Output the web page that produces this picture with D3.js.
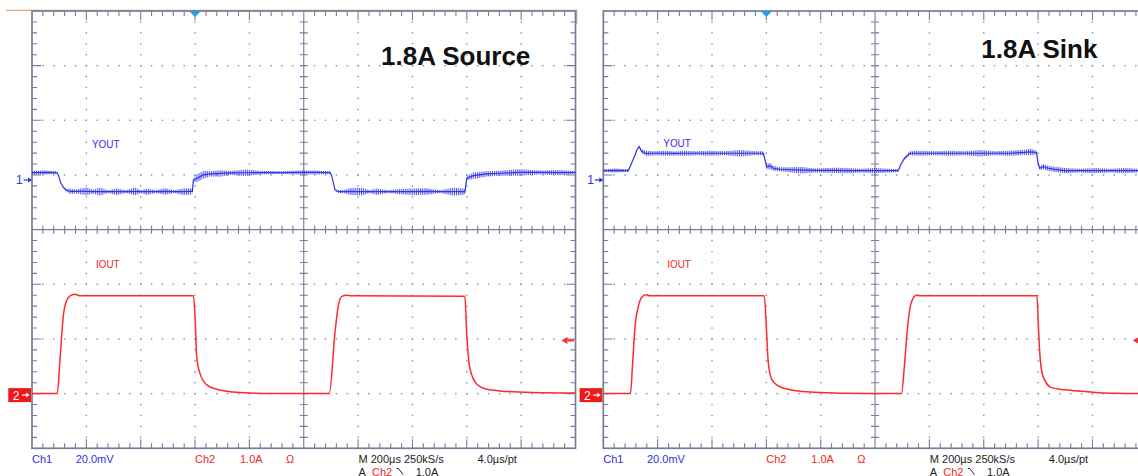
<!DOCTYPE html>
<html>
<head>
<meta charset="utf-8">
<script src="https://cdn.jsdelivr.net/npm/d3@7"></script>
<style>
  body { margin: 0; background: #fff; }
  svg { display: block; }
  text { font-family: "Liberation Sans", Arial, sans-serif; }
</style>
</head>
<body>
<script>
// scope settings (same on both screenshots)
const timeRange = [-600, 1400];   // µs, 200 µs/div, trigger 3 div from the left
const ch1PerDiv = 20;             // mV/div
const ch1Offset = 0.909;          // div above centre
const ch2PerDiv = 1.0;            // A/div
const ch2Offset = -3;             // div
const trigLevel = 1.0;            // A

// YOUT: [time µs, mV, ripple half-amplitude mV]
const srcYout = [
  [-600, 2.67, 0.55], [-552, 2.74, 0.55], [-509, 2.67, 0.37], [-503, 1.83, 0], [-494, -1.10, 0],
  [-485, -2.67, 0.18], [-475, -3.66, 0.37], [-460, -4.21, 0.73], [-438, -4.21, 0.55], [-399, -4.21, 1.10],
  [-376, -4.28, 0.55], [-350, -4.28, 1.10], [-320, -4.28, 0.37], [-288, -4.28, 0.91], [-254, -4.28, 0.37],
  [-221, -4.21, 1.10], [-199, -4.28, 0.37], [-177, -4.28, 0.91], [-144, -4.28, 0.37], [-111, -4.21, 0.91],
  [-77, -4.28, 0.37], [-44, -4.28, 0.91], [-19, -4.21, 0.91], [-10, -4.21, 0.73], [-6, 0.00, 0.37],
  [6, 0.55, 1.10], [30, 1.83, 1.10], [55, 2.20, 0.73], [92, 2.38, 0.91], [129, 2.56, 0.55],
  [184, 2.63, 0.91], [239, 2.67, 0.55], [312, 2.67, 0.37], [386, 2.74, 0.55], [441, 2.74, 0.55],
  [497, 2.67, 0.37], [503, 1.46, 0], [509, -1.10, 0], [515, -3.66, 0.18], [527, -4.28, 0.37],
  [552, -4.28, 0.55], [570, -4.21, 0.91], [613, -4.28, 1.10], [644, -4.28, 0.37], [668, -4.28, 0.91],
  [710, -4.28, 0.37], [754, -4.28, 0.73], [809, -4.28, 0.91], [852, -4.21, 0.91], [901, -4.28, 0.37],
  [950, -4.28, 1.10], [986, -4.28, 0.91], [993, -4.39, 0.73], [1000, 0.62, 0.55], [1024, 1.57, 0.91],
  [1073, 2.20, 0.73], [1122, 2.45, 0.73], [1196, 2.74, 0.91], [1269, 2.74, 0.55], [1343, 2.67, 0.73],
  [1400, 2.74, 0.37]
];
const sinkYout = [
  [-600, 3.40, 0.37], [-557, 3.48, 0.55], [-508, 3.40, 0.37], [-496, 6.11, 0], [-483, 9.15, 0.18],
  [-477, 10.98, 0.18], [-468, 12.18, 0.18], [-459, 10.50, 0.55], [-443, 9.70, 0.73], [-410, 9.77, 0.55],
  [-373, 9.77, 0.73], [-337, 9.70, 0.55], [-300, 9.77, 0.73], [-256, 9.77, 0.55], [-208, 9.77, 0.73],
  [-153, 9.77, 0.55], [-97, 9.77, 0.91], [-42, 9.77, 0.55], [-11, 9.77, 0.55], [-5, 7.32, 0.37],
  [1, 4.76, 0.73], [13, 5.12, 0.91], [26, 4.28, 0.73], [50, 3.92, 0.55], [87, 3.73, 0.73],
  [130, 3.59, 0.91], [179, 3.48, 0.55], [246, 3.48, 0.73], [302, 3.40, 0.73], [345, 3.40, 0.55],
  [400, 3.40, 0.73], [455, 3.40, 0.55], [485, 3.40, 0.37], [497, 6.11, 0.18], [509, 7.94, 0.37],
  [528, 9.77, 0.55], [565, 9.77, 0.73], [620, 9.77, 0.55], [675, 9.77, 0.73], [731, 9.77, 0.55],
  [786, 9.77, 0.91], [841, 9.77, 0.55], [896, 9.77, 0.73], [952, 10.06, 0.73], [970, 10.24, 0.91],
  [994, 10.06, 0.55], [1000, 6.11, 0.37], [1006, 4.28, 0.55], [1018, 4.87, 0.73], [1037, 4.28, 0.73],
  [1062, 3.84, 0.73], [1098, 3.40, 0.73], [1154, 3.40, 0.55], [1209, 3.40, 0.73], [1264, 3.40, 0.55],
  [1320, 3.40, 0.73], [1400, 3.40, 0.37]
];

// IOUT: [time µs, A]
const srcIout = [
  [-600, 0], [-507, 0], [-497, 0.62], [-485, 1.41], [-472, 1.71], [-460, 1.79], [-442, 1.82], [-423, 1.79],
  [-6, 1.79], [0, 1.41], [6, 0.68], [18, 0.37], [43, 0.16], [80, 0.08], [141, 0.03], [202, 0.01], [300, 0],
  [494, 0], [515, 1.12], [527, 1.60], [540, 1.78], [558, 1.80], [575, 1.79], [993, 1.78], [1000, 1.06],
  [1012, 0.45], [1037, 0.17], [1073, 0.08], [1122, 0.05], [1245, 0.02], [1400, 0.01]
];
const sinkIout = [
  [-600, 0], [-500, 0], [-492, 0.57], [-483, 1.24], [-471, 1.60], [-459, 1.76], [-443, 1.81], [-428, 1.79],
  [-8, 1.79], [1, 1.12], [7, 0.57], [20, 0.26], [44, 0.14], [87, 0.07], [136, 0.04], [197, 0.02], [357, 0],
  [497, 0], [509, 0.57], [519, 1.18], [533, 1.66], [552, 1.80], [570, 1.79], [996, 1.79], [1000, 1.36],
  [1006, 0.75], [1018, 0.32], [1049, 0.11], [1098, 0.07], [1171, 0.04], [1245, 0.01], [1400, 0]
];

const titles = ["1.8A Source", "1.8A Sink"];

const W = 1138, H = 476;
const DIV_X = 54.35, DIV_Y = 54.66, TOP = 11;
const GRID = "#767c9a", DOT = "#878ca6";
const BLUE = "#3535e8", RED = "#ff2a2a", TXT_BLUE = "#2f2fe6", TXT_RED = "#f02424";

const panels = [
  { x0: 32, title: titles[0], titleDx: 349, titleY: 65.3, yout: srcYout, iout: srcIout, orange: true, youtY: 147.7 },
  { x0: 603.3, title: titles[1], titleDx: 378, titleY: 58.3, yout: sinkYout, iout: sinkIout, orange: false, youtY: 146.7 }
];

const svg = d3.select("body").append("svg")
  .attr("width", W)
  .attr("height", H);

// vertical hatching used to render the ripple envelope
svg.append("defs").append("pattern")
  .attr("id", "ripple")
  .attr("patternUnits", "userSpaceOnUse")
  .attr("width", 1.9).attr("height", 20)
  .append("rect").attr("width", 1.0).attr("height", 20).attr("fill", BLUE);

panels.forEach((p, pi) => {
  const X0 = p.x0, X1 = X0 + 10 * DIV_X, Y1 = TOP + 8 * DIV_Y;
  const g = svg.append("g");

  const xDiv = d3.scaleLinear().domain([0, 10]).range([X0, X1]);
  const yDiv = d3.scaleLinear().domain([0, 8]).range([TOP, Y1]);
  const xT = d3.scaleLinear().domain(timeRange).range([X0, X1]);
  const yV = d3.scaleLinear()
    .domain([(-4 - ch1Offset) * ch1PerDiv, (4 - ch1Offset) * ch1PerDiv])
    .range([Y1, TOP]);
  const yI = d3.scaleLinear()
    .domain([(-4 - ch2Offset) * ch2PerDiv, (4 - ch2Offset) * ch2PerDiv])
    .range([Y1, TOP]);

  // orange bar above the first screen
  if (p.orange) {
    g.append("path")
      .attr("d", `M${X0 - 26},${TOP - 0.7}H${X1 + 1.2}V${TOP + 13}`)
      .attr("fill", "none").attr("stroke", "#eba56e").attr("stroke-width", 1.2);
  }

  // dotted graticule
  const minorX = d3.range(1, 50), minorY = d3.range(1, 40);
  const dots = [];
  [1, 2, 3, 4, 6, 7, 8, 9].forEach(i => minorY.forEach(k => dots.push([xDiv(i), yDiv(k / 5)])));
  [1, 2, 3, 5, 6, 7].forEach(j => minorX.forEach(k => dots.push([xDiv(k / 5), yDiv(j)])));
  g.selectAll(".dot").data(dots).join("rect")
    .attr("x", d => d[0] - 0.7).attr("y", d => d[1] - 0.7)
    .attr("width", 1.4).attr("height", 1.4).attr("fill", DOT);

  // border ticks and centre cross
  let tk = "";
  minorX.forEach(k => {
    const x = xDiv(k / 5), L = k % 5 ? 5 : 9;
    tk += `M${x},${TOP}v${L}M${x},${Y1}v${-L}`;
    tk += `M${x},${yDiv(4) - 4}v8`;
  });
  minorY.forEach(k => {
    const y = yDiv(k / 5), L = k % 5 ? 5 : 9;
    tk += `M${X0},${y}h${L}M${X1},${y}h${-L}`;
    tk += `M${xDiv(5) - 4},${y}h8`;
  });
  tk += `M${xDiv(5)},${TOP}V${Y1}M${X0},${yDiv(4)}H${X1}`;
  g.append("path").attr("d", tk).attr("fill", "none")
    .attr("stroke", GRID).attr("stroke-width", 1.1);
  g.append("rect")
    .attr("x", X0).attr("y", TOP).attr("width", X1 - X0).attr("height", Y1 - TOP)
    .attr("fill", "none").attr("stroke", GRID).attr("stroke-width", 1.7);

  // traces
  g.append("clipPath").attr("id", "clip" + pi)
    .append("rect").attr("x", X0).attr("y", TOP).attr("width", X1 - X0).attr("height", Y1 - TOP);
  const tr = g.append("g").attr("clip-path", `url(#clip${pi})`);

  tr.append("path")
    .datum(p.yout)
    .attr("d", d3.area().x(d => xT(d[0])).y0(d => yV(d[1] - d[2] * 1.3)).y1(d => yV(d[1] + d[2] * 1.3)))
    .attr("fill", "url(#ripple)").attr("opacity", 0.85);
  tr.append("path")
    .datum(p.yout)
    .attr("d", d3.line().x(d => xT(d[0])).y(d => yV(d[1])))
    .attr("fill", "none").attr("stroke", BLUE).attr("stroke-width", 1.2);
  tr.append("path")
    .datum(p.iout)
    .attr("d", d3.line().x(d => xT(d[0])).y(d => yI(d[1])).curve(d3.curveMonotoneX))
    .attr("fill", "none").attr("stroke", RED).attr("stroke-width", 1.5);

  // channel labels
  g.append("text").attr("x", X0 + 60).attr("y", p.youtY)
    .attr("font-size", 11.5).attr("textLength", 27.5).attr("lengthAdjust", "spacingAndGlyphs")
    .attr("fill", TXT_BLUE).text("YOUT");
  g.append("text").attr("x", X0 + 64).attr("y", 268.2)
    .attr("font-size", 11.5).attr("textLength", 23.5).attr("lengthAdjust", "spacingAndGlyphs")
    .attr("fill", TXT_RED).text("IOUT");

  // title
  g.append("text").attr("x", X0 + p.titleDx).attr("y", p.titleY)
    .attr("font-size", 26).attr("font-weight", "bold").attr("fill", "#111").text(p.title);

  // trigger position marker
  const tx = xT(0);
  g.append("path").attr("d", `M${tx - 6},${TOP}L${tx + 6},${TOP}L${tx},${TOP + 6}Z`)
    .attr("fill", "#2a9fe0");

  // ch1 ground marker
  const g1 = yV(0);
  g.append("text").attr("x", X0 - 16).attr("y", g1 + 4.5).attr("font-size", 12)
    .attr("fill", TXT_BLUE).text("1");
  g.append("path").attr("d", `M${X0 - 8.5},${g1}H${X0 - 3}`)
    .attr("stroke", TXT_BLUE).attr("stroke-width", 1.2);
  g.append("path").attr("d", `M${X0 - 4},${g1 - 2.5}L${X0},${g1}L${X0 - 4},${g1 + 2.5}Z`)
    .attr("fill", TXT_BLUE);

  // ch2 ground marker
  const g2 = yI(0) + 1.5;
  g.append("rect").attr("x", X0 - 23.7).attr("y", g2 - 7).attr("width", 22.7).attr("height", 14)
    .attr("fill", "#f01818");
  g.append("text").attr("x", X0 - 16).attr("y", g2 + 4.5).attr("font-size", 12)
    .attr("text-anchor", "middle").attr("fill", "#fff").text("2");
  g.append("path").attr("d", `M${X0 - 10},${g2}H${X0 - 5}`)
    .attr("stroke", "#fff").attr("stroke-width", 1.2);
  g.append("path").attr("d", `M${X0 - 6},${g2 - 2.5}L${X0 - 2.5},${g2}L${X0 - 6},${g2 + 2.5}Z`)
    .attr("fill", "#fff");

  // trigger level marker
  const ty = yI(trigLevel) + 1.5;
  g.append("path").attr("d", `M${X1 - 8},${ty}H${X1 - 1.5}`)
    .attr("stroke", RED).attr("stroke-width", 2);
  g.append("path").attr("d", `M${X1 - 8},${ty - 3.5}L${X1 - 14},${ty}L${X1 - 8},${ty + 3.5}Z`)
    .attr("fill", RED);

  // readout
  const readout = [
    ["Ch1", 0, 0, TXT_BLUE],
    [`${ch1PerDiv.toFixed(1)}mV`, 43.7, 0, TXT_BLUE],
    ["Ch2", 163, 0, TXT_RED],
    [`${ch2PerDiv.toFixed(1)}A`, 208, 0, TXT_RED],
    ["Ω", 254, 0, TXT_RED],
    ["M 200µs 250kS/s", 326.5, 0, "#222"],
    ["4.0µs/pt", 445.5, 0, "#222"],
    ["A", 326.5, 1, "#222"],
    ["Ch2", 340, 1, TXT_RED],
    [`${trigLevel.toFixed(1)}A`, 383.7, 1, "#222"]
  ];
  g.selectAll(".ro").data(readout).join("text")
    .attr("x", d => X0 + d[1]).attr("y", d => d[2] ? 475.5 : 463)
    .attr("font-size", 11).attr("fill", d => d[3]).text(d => d[0]);
  // falling slope symbol
  g.append("path").attr("d", `M${X0 + 364.5},${468.5}h2l4.5,6`)
    .attr("fill", "none").attr("stroke", "#222").attr("stroke-width", 1);
});
</script>
</body>
</html>
